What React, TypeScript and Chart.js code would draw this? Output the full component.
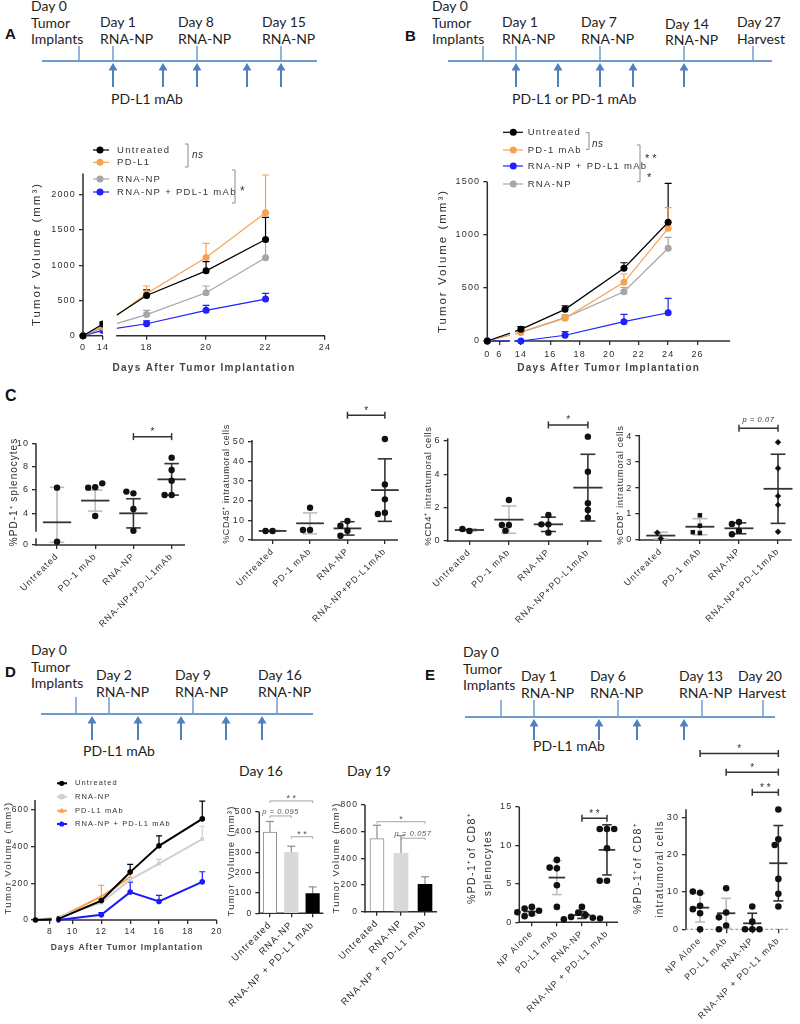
import React, { useEffect, useRef } from "react";
import { Chart, registerables } from "chart.js";

Chart.register(...registerables);

const SANS = '"Liberation Sans", Arial, Helvetica, sans-serif';
const TLFONT = 'Lato, "Open Sans", "Liberation Sans", sans-serif';
const INK = "#2e2e2e";

/* ================= Panel A : tumour growth ================= */
const aDays = [0, 14, 18, 20, 22];
const aXTickDays = [0, 14, 18, 20, 22, 24];
const aYTicks = [0, 500, 1000, 1500, 2000];
const aNames = ["Untreated", "PD-L1", "RNA-NP", "RNA-NP + PDL-1 mAb"];
const aUntreated = [0, 165, 570, 920, 1365];
const aUntreatedSem = [0, 30, 80, 130, 315];
const aPDL1 = [0, 140, 600, 1110, 1745];
const aPDL1Sem = [0, 30, 105, 200, 535];
const aRNANP = [0, 115, 300, 610, 1105];
const aRNANPSem = [0, 25, 60, 95, 235];
const aCombo = [0, 75, 170, 360, 520];
const aComboSem = [0, 20, 40, 70, 80];

/* ================= Panel B ================= */
const bDays = [0, 14, 17, 21, 24];
const bXTickDays = [0, 6, 14, 16, 18, 20, 22, 24, 26];
const bYTicks = [0, 500, 1000, 1500];
const bNames = ["Untreated", "PD-1 mAb", "RNA-NP + PD-L1 mAb", "RNA-NP"];
const bUntreated = [0, 110, 298, 685, 1118];
const bUntreatedSem = [0, 25, 34, 52, 367];
const bPD1 = [0, 80, 214, 553, 1061];
const bPD1Sem = [0, 15, 31, 78, 194];
const bCombo = [0, 0, 54, 182, 266];
const bComboSem = [0, 0, 34, 69, 136];
const bRNANP = [0, 85, 220, 464, 873];
const bRNANPSem = [0, 15, 25, 40, 103];

/* ================= Panel C : dot plots ================= */
const cGroups = ["Untreated", "PD-1 mAb", "RNA-NP", "RNA-NP+PD-L1mAb"];
const c1Points = [[6.2, 0.28], [6.23, 6.2, 6.57, 3.77], [5.71, 5.86, 4.37, 2.51], [8.77, 7.71, 6.8, 5.57, 5.57]];
const c1Mean = [3.23, 5.09, 4.0, 6.91];
const c1Sem = [3.0, 0.9, 1.25, 1.35];
const c1YTicks = [0, 4, 6, 8, 10];
const c2Points = [[4.6, 4.6], [16.4, 5.1, 5.1], [9.7, 7.3, 4.7, 2.2], [51.4, 28.3, 20.7, 13.9, 13.2]];
const c2Mean = [4.6, 8.5, 5.9, 25.4];
const c2Sem = [0.3, 5.3, 3.4, 15.9];
const c2YTicks = [0, 10, 20, 30, 40, 50];
const c3Points = [[0.6, 0.72], [2.46, 0.96, 0.96, 0.62], [1.56, 1.0, 1.0, 0.5], [6.26, 4.16, 2.26, 1.86, 1.4]];
const c3Mean = [0.66, 1.28, 1.0, 3.2];
const c3Sem = [0.07, 0.82, 0.43, 2.0];
const c3YTicks = [0, 2, 4, 6];
const c4Points = [[0.06, 0.28], [0.95, 0.55, 0.27, 0.3], [0.69, 0.62, 0.35, 0.22], [3.76, 2.76, 1.69, 1.35, 0.32]];
const c4Mean = [0.17, 0.51, 0.45, 1.97];
const c4Sem = [0.13, 0.31, 0.21, 1.33];
const c4YTicks = [0, 1, 2, 3, 4];

/* ================= Panel D ================= */
const dDays = [7, 9, 12, 14, 16, 19];
const dXTickDays = [8, 10, 12, 14, 16, 18, 20];
const dYTicks = [0, 200, 400, 600];
const dNames = ["Untreated", "RNA-NP", "PD-L1 mAb", "RNA-NP + PD-L1 mAb"];
const dUntreated = [0, 5, 106, 261, 404, 551];
const dUntreatedSem = [0, 0, 0, 42, 55, 97];
const dRNANP = [0, 15, 95, 220, 307, 441];
const dRNANPSem = [0, 0, 15, 0, 23, 70];
const dPDL1 = [null, 10, 128, 235, null, null];
const dPDL1Sem = [0, 0, 61, 30, 0, 0];
const dCombo = [null, 0, 28, 152, 101, 208];
const dComboSem = [0, 0, 12, 54, 33, 55];

const barGroups = ["Untreated", "RNA-NP", "RNA-NP + PD-L1 mAb"];
const day16Mean = [400, 300, 97];
const day16Sem = [52, 30, 33];
const day16YTicks = [0, 100, 200, 300, 400, 500];
const day19Mean = [548, 438, 205];
const day19Sem = [100, 132, 57];
const day19YTicks = [0, 200, 400, 600, 800];

/* ================= Panel E ================= */
const eGroups = ["NP Alone", "PD-L1 mAb", "RNA-NP", "RNA-NP + PD-L1 mAb"];
const e1Points = [[2.0, 1.8, 1.5, 1.1, 0.8, 1.3], [8.1, 7.0, 7.1, 4.8, 2.0], [2.0, 1.25, 0.95, 0.7, 0.6, 0.4, 0.5], [12.1, 12.1, 12.1, 9.6, 5.4, 5.4]];
const e1Mean = [1.4, 5.8, 0.95, 9.4];
const e1Sem = [0.45, 2.2, 0.45, 3.25];
const e1YTicks = [0, 5, 10, 15];
const e2Points = [[9.8, 10.1, 6.3, 5.4, 4.3, 0], [11, 4.5, 3.2, 1.0, 0], [6.1, 2.05, 0, 0, 0], [32.1, 24.1, 22.6, 13.5, 9.5, 6.1]];
const e2Mean = [5.8, 4.3, 1.6, 17.7];
const e2Sem = [3.8, 4.0, 2.7, 10.1];
const e2YTicks = [0, 10, 20, 30];

/* ================= axis breaks (display transforms) ================= */
type Brk = { d0: number; d1: number; p0: number; p1: number; s2: number };
const aBreak: Brk = { d0: 0, d1: 14, p0: 15.86, p1: 16.53, s2: 17 };
const bBreak: Brk = { d0: 0, d1: 11.35, p0: 11.72, p1: 13.26, s2: 13.6 };
const dBreak: Brk = { d0: 7, d1: 8.12, p0: 7.434, p1: 8.554, s2: 8.9 };
function breakMap(b: Brk) {
  return (d: number) =>
    d <= b.d1 ? b.p0 + ((d - b.d0) * (b.p1 - b.p0)) / (b.d1 - b.d0)
      : d >= b.s2 ? d : b.p1 + ((d - b.d1) * (b.s2 - b.p1)) / (b.s2 - b.d1);
}
const aMap = breakMap(aBreak);
const bMap = breakMap(bBreak);
const dMap = breakMap(dBreak);
const c1Brk = { v1: 0.571, p0: 1.286, p1: 1.857, s2: 2.49 };
const c1Map = (v: number) =>
  v <= c1Brk.v1 ? c1Brk.p0 + v : v >= c1Brk.s2 ? v : c1Brk.p1 + ((v - c1Brk.v1) * (c1Brk.s2 - c1Brk.p1)) / (c1Brk.s2 - c1Brk.v1);

/* ================= drawing helpers ================= */
type Box = { left: number; top: number; right: number; bottom: number; area: number[] };
type Txt = { t: string; x: number; y: number; size: number; weight?: string; italic?: boolean; ls?: number; rot?: number; color?: string; align?: CanvasTextAlign; base?: CanvasTextBaseline };

function seg(ctx: any, x0: number, y0: number, x1: number, y1: number) {
  ctx.beginPath();
  ctx.moveTo(x0, y0);
  ctx.lineTo(x1, y1);
  ctx.stroke();
}
function marker(ctx: any, style: string, x: number, y: number, r: number, color: string) {
  ctx.fillStyle = color;
  ctx.beginPath();
  if (style === "rect") ctx.rect(x - r, y - r, 2 * r, 2 * r);
  else if (style === "rectRot") {
    ctx.moveTo(x, y - r * 1.3); ctx.lineTo(x + r * 1.3, y); ctx.lineTo(x, y + r * 1.3); ctx.lineTo(x - r * 1.3, y); ctx.closePath();
  } else if (style === "triangle") {
    ctx.moveTo(x, y - r * 1.2); ctx.lineTo(x + r * 1.1, y + r * 0.8); ctx.lineTo(x - r * 1.1, y + r * 0.8); ctx.closePath();
  } else ctx.arc(x, y, r, 0, Math.PI * 2);
  ctx.fill();
}
function drawText(ctx: any, t: Txt, ox: number, oy: number) {
  ctx.save();
  ctx.font = `${t.italic ? "italic " : ""}${t.weight || "normal"} ${t.size}px ${SANS}`;
  ctx.letterSpacing = (t.ls ?? 0) + "px";
  ctx.fillStyle = t.color || INK;
  ctx.textAlign = t.align || "center";
  ctx.textBaseline = t.base || "middle";
  ctx.translate(t.x - ox, t.y - oy);
  if (t.rot) ctx.rotate((t.rot * Math.PI) / 180);
  ctx.fillText(t.t, 0, 0);
  ctx.restore();
}

function figPlugin(f: any) {
  const ox = f.box.left, oy = f.box.top;
  return {
    id: "fig",
    beforeDraw(chart: any) {
      chart.ctx.letterSpacing = (f.ls ?? 0.8) + "px";
    },
    beforeDatasetsDraw(chart: any) {
      const ctx = chart.ctx, xs = chart.scales.x, ys = chart.scales.y, ca = chart.chartArea;
      ctx.save();
      ctx.strokeStyle = INK;
      ctx.lineWidth = 1.5;
      const ySegs = f.ySegs || [[ys.min, ys.max]];
      ySegs.forEach((s: number[]) => seg(ctx, ca.left, ys.getPixelForValue(s[0]) + 0.75, ca.left, ys.getPixelForValue(s[1])));
      if (f.xDash) { ctx.setLineDash(f.xDash); ctx.strokeStyle = f.xAxisColor || "#888"; ctx.lineWidth = 1; }
      const xSegs = f.xSegs ? f.xSegs.map((s: number[]) => [xs.getPixelForValue(s[0]), xs.getPixelForValue(s[1])]) : [[ca.left, ca.right]];
      xSegs.forEach((s: number[]) => seg(ctx, s[0] - 0.75, ca.bottom, s[1], ca.bottom));
      ctx.restore();

      ctx.save();
      if (f.gap) {
        const g0 = xs.getPixelForValue(f.gap[0]), g1 = xs.getPixelForValue(f.gap[1]);
        ctx.beginPath();
        ctx.rect(0, 0, g0, chart.height);
        ctx.rect(g1, 0, chart.width - g1, chart.height);
        ctx.clip();
      }
      if (f.stats) {
        const S = f.stats;
        S.mid.forEach((m: number, i: number) => {
          const g = i + 1, px = xs.getPixelForValue(g);
          const hw = xs.getPixelForValue(g + S.meanHalf) - px;
          const cw = xs.getPixelForValue(g + S.capHalf) - px;
          const pm = ys.getPixelForValue(m);
          const plo = ys.getPixelForValue(Math.max(S.lo[i], ys.min));
          const phi = ys.getPixelForValue(S.hi[i]);
          ctx.lineWidth = 1.6;
          ctx.strokeStyle = S.whisker[i];
          seg(ctx, px, plo, px, phi);
          seg(ctx, px - cw, plo, px + cw, plo);
          seg(ctx, px - cw, phi, px + cw, phi);
          ctx.strokeStyle = S.meanColor;
          ctx.lineWidth = 1.8;
          seg(ctx, px - hw, pm, px + hw, pm);
        });
      }
      chart.data.datasets.forEach((ds: any, di: number) => {
        if (!ds.errors) return;
        const meta = chart.getDatasetMeta(di);
        ctx.save();
        ctx.strokeStyle = ds.errorColor || ds.borderColor;
        ctx.lineWidth = ds.errorWidth || 1.2;
        meta.data.forEach((el: any, i: number) => {
          const raw = ds.data[i];
          if (raw == null) return;
          const v = typeof raw === "number" ? raw : raw.y;
          const e = ds.errors[i];
          if (v == null || !e) return;
          const p0 = ys.getPixelForValue(v), p1 = ys.getPixelForValue(v + e), cap = ds.errorCap ?? 3;
          seg(ctx, el.x, p0, el.x, p1);
          seg(ctx, el.x - cap, p1, el.x + cap, p1);
        });
        ctx.restore();
      });
    },
    afterDatasetsDraw(chart: any) {
      chart.ctx.restore();
    },
    afterDraw(chart: any) {
      const ctx = chart.ctx, xs = chart.scales.x, ys = chart.scales.y;
      ctx.save();
      if (f.sigs) {
        const st = f.sigStyle;
        f.sigs.forEach((s: any) => {
          const xa = xs.getPixelForValue(s.a), xb = xs.getPixelForValue(s.b), y = ys.getPixelForValue(s.v);
          ctx.strokeStyle = st.color;
          ctx.lineWidth = st.lw;
          seg(ctx, xa, y, xb, y);
          seg(ctx, xa, y - st.up, xa, y + st.down);
          seg(ctx, xb, y - st.up, xb, y + st.down);
          drawText(ctx, {
            t: s.text, x: (xa + xb) / 2 + ox, y: y - (s.italic ? st.pgap : st.gap) + oy,
            size: s.italic ? st.psize : st.size, italic: s.italic, color: st.textColor, base: "alphabetic", ls: s.italic ? 0.6 : 0,
          }, ox, oy);
        });
      }
      if (f.legend) {
        const L = f.legend;
        chart.data.datasets.forEach((ds: any, i: number) => {
          const y = L.rows[i] - oy;
          ctx.strokeStyle = ds.borderColor;
          ctx.lineWidth = L.lw;
          seg(ctx, L.lx0 - ox, y, L.lx1 - ox, y);
          marker(ctx, ds.pointStyle, L.mx - ox, y, L.r, ds.borderColor);
          drawText(ctx, { t: ds.label, x: L.tx, y: L.rows[i], size: L.size, ls: L.ls, align: "left", color: "#333" }, ox, oy);
        });
      }
      if (f.brackets) {
        ctx.strokeStyle = "#8a8a8a";
        ctx.lineWidth = 1;
        f.brackets.forEach((b: any) => {
          seg(ctx, b.x - ox, b.y0 - oy, b.x - ox, b.y1 - oy);
          seg(ctx, b.x - ox - 3, b.y0 - oy, b.x - ox, b.y0 - oy);
          seg(ctx, b.x - ox - 3, b.y1 - oy, b.x - ox, b.y1 - oy);
        });
      }
      (f.texts || []).forEach((t: Txt) => drawText(ctx, t, ox, oy));
      ctx.restore();
    },
  };
}

function linScale(axis: string, min: number, max: number, vals: number[], labels: string[], size: number, pad: number, extent: number, rot = 0) {
  return {
    type: "linear",
    position: axis === "x" ? "bottom" : "left",
    min, max, bounds: "data",
    afterBuildTicks: (s: any) => { s.ticks = vals.map((v) => ({ value: v })); },
    afterFit: (s: any) => { if (axis === "x") s.height = extent; else s.width = extent; },
    ticks: { callback: (_v: any, i: number) => labels[i], font: { family: SANS, size }, color: INK, padding: pad, autoSkip: false, maxRotation: rot, minRotation: rot },
    grid: { display: true, drawOnChartArea: false, drawTicks: true, tickLength: 4, color: INK, lineWidth: 1.3 },
    border: { display: false },
  };
}

function baseOptions(box: Box, scales: any) {
  const [L, T, R, B] = box.area;
  return {
    responsive: false, animation: false, devicePixelRatio: 1, events: [],
    layout: { padding: { left: 0, top: T - box.top, right: box.right - R, bottom: 0 } },
    plugins: { legend: { display: false }, tooltip: { enabled: false }, title: { display: false }, colors: { enabled: false } },
    scales,
  };
}

type Def = { box: Box; config: () => any };

/* ---------- line charts ---------- */
function lineDef(p: any): Def {
  return {
    box: p.box,
    config: () => {
      const [L, , , B] = p.box.area;
      const datasets = p.series.map((s: any) => {
        const data: any[] = [];
        const errors: number[] = [];
        s.vals.forEach((v: number | null, i: number) => {
          if (v === null) return;
          data.push({ x: p.map(s.days[i]), y: v });
          errors.push(s.sem[i]);
        });
        return {
          label: s.label, data, errors, borderColor: s.color, backgroundColor: s.color,
          pointBackgroundColor: s.color, pointBorderColor: s.color, pointBorderWidth: 0,
          pointRadius: s.r, pointStyle: s.style, borderWidth: p.lw, tension: 0, clip: false,
          errorCap: p.errCap, errorWidth: 1.2,
        };
      });
      return {
        type: "line",
        data: { datasets },
        options: baseOptions(p.box, {
          x: linScale("x", p.xMin, p.xMax, p.xTickDays.map(p.map), p.xTickDays.map(String), p.tickSize ?? 8.5, p.xPad, p.box.bottom - B),
          y: linScale("y", 0, p.yMax, p.yTicks, p.yTicks.map(String), p.tickSize ?? 8.5, p.yPad, L - p.box.left),
        }),
        plugins: [figPlugin({ ...p.fig, box: p.box })],
      };
    },
  };
}

/* ---------- dot plots ---------- */
function swarm(vals: number[], group: number, pxX: number, pxY: number, r: number) {
  const placed: { dx: number; py: number }[] = [];
  return vals.map((v) => {
    const py = v * pxY;
    let dx = 0;
    for (let k = 0; k < 16; k++) {
      const cand = k === 0 ? 0 : (k % 2 ? -1 : 1) * Math.ceil(k / 2) * r * 1.1;
      if (placed.every((q) => Math.hypot(q.dx - cand, q.py - py) >= 2 * r)) { dx = cand; break; }
    }
    placed.push({ dx, py });
    return { x: group + dx / pxX, y: v };
  });
}

const cWhisk = ["#bdbdbd", "#bdbdbd", "#333333", "#333333"];
const cSigStyle = { color: "#333", lw: 1.5, up: 3.5, down: 3.5, size: 10, psize: 7.5, textColor: "#333", gap: 1.5, pgap: 6 };

function dotDef(p: any): Def {
  return {
    box: p.box,
    config: () => {
      const [L, T, R, B] = p.box.area;
      const map = p.yMap || ((v: number) => v);
      const pxX = (R - L) / (p.xMax - p.xMin), pxY = (B - T) / (p.yMax - p.yMin);
      const shapes = p.shapes || [];
      const datasets = p.points.map((vals: number[], gi: number) => ({
        data: swarm(vals.map(map), gi + 1, pxX, pxY, p.r),
        pointStyle: shapes[gi] || "circle", pointRadius: p.r, backgroundColor: "#111", borderColor: "#111",
        pointBorderWidth: 0, clip: false,
      }));
      const stats = {
        mid: p.mean.map((m: number) => map(m)),
        lo: p.mean.map((m: number, i: number) => map(m - p.sem[i])),
        hi: p.mean.map((m: number, i: number) => map(m + p.sem[i])),
        whisker: cWhisk, meanColor: "#333333", meanHalf: p.meanHalf, capHalf: 0.19,
      };
      return {
        type: "scatter",
        data: { datasets },
        options: baseOptions(p.box, {
          x: linScale("x", p.xMin, p.xMax, [1, 2, 3, 4], p.labels, 9, 2, p.box.bottom - B, 45),
          y: linScale("y", p.yMin, p.yMax, p.yTicks.map(map), p.yTicks.map(String), 9, 3, L - p.box.left),
        }),
        plugins: [figPlugin({ box: p.box, ls: 1.1, stats, ySegs: p.ySegs, xDash: p.xDash, sigs: p.sigs, sigStyle: cSigStyle, texts: p.titles })],
      };
    },
  };
}

/* ---------- bar charts ---------- */
const barSigStyle = { color: "#9a9a9a", lw: 0.9, up: 0, down: 2, size: 9, psize: 7.5, textColor: "#555", gap: 0, pgap: 2 };
function barDef(p: any): Def {
  return {
    box: p.box,
    config: () => {
      const [L, , , B] = p.box.area;
      return {
        type: "bar",
        data: {
          labels: barGroups,
          datasets: [{
            data: p.means, errors: p.sems,
            backgroundColor: ["#ffffff", "#d9d9d9", "#000000"],
            borderColor: ["#8c8c8c", "#d9d9d9", "#000000"],
            borderWidth: [1, 0, 0], barThickness: p.thick,
            errorColor: "#8c8c8c", errorCap: 4, errorWidth: 1.2,
          }],
        },
        options: baseOptions(p.box, {
          x: {
            type: "category", position: "bottom", offset: true,
            afterFit: (s: any) => { s.height = p.box.bottom - B; },
            ticks: { font: { family: SANS, size: 9.5 }, color: INK, padding: 2, autoSkip: false, maxRotation: 45, minRotation: 45 },
            grid: { display: true, drawOnChartArea: false, drawTicks: true, tickLength: 4, color: INK, lineWidth: 1.3, offset: false },
            border: { display: false },
          },
          y: linScale("y", 0, p.yMax, p.yTicks, p.yTicks.map(String), 8.5, 3, L - p.box.left),
        }),
        plugins: [figPlugin({ box: p.box, ls: 1.1, sigs: p.sigs, sigStyle: barSigStyle, texts: p.texts })],
      };
    },
  };
}

/* ================= chart definitions ================= */
const A_COLORS = { black: "#000000", orange: "#F7A24F", gray: "#A6A6A6", blue: "#1F1FFF" };
const yTitle = "Tumor Volume (mm³)";
const xTitle = "Days After Tumor Implantation";

const defs: Def[] = [
  lineDef({
    box: { left: 0, top: 130, right: 340, bottom: 374, area: [83, 173.6, 325, 335.7] },
    map: aMap, xMin: aBreak.p0, xMax: 24, xTickDays: aXTickDays, yMax: 2300, yTicks: aYTicks,
    xPad: 2, yPad: 3, lw: 1.2, errCap: 3.5, tickSize: 9,
    series: [
      { label: aNames[0], color: A_COLORS.black, days: aDays, vals: aUntreated, sem: aUntreatedSem, style: "circle", r: 3.5 },
      { label: aNames[1], color: A_COLORS.orange, days: aDays, vals: aPDL1, sem: aPDL1Sem, style: "circle", r: 3.5 },
      { label: aNames[2], color: A_COLORS.gray, days: aDays, vals: aRNANP, sem: aRNANPSem, style: "circle", r: 3.5 },
      { label: aNames[3], color: A_COLORS.blue, days: aDays, vals: aCombo, sem: aComboSem, style: "circle", r: 3.5 },
    ],
    fig: {
      ls: 1.2,
      gap: [aBreak.p1, aBreak.s2],
      xSegs: [[aBreak.p0, aBreak.p1], [aBreak.s2, 24]],
      legend: { rows: [150, 162.3, 179, 192], lx0: 93, lx1: 109, mx: 100, tx: 117, size: 9.5, ls: 1.3, lw: 1.2, r: 3.5 },
      brackets: [{ x: 188, y0: 144, y1: 167 }, { x: 235, y0: 170, y1: 203 }],
      texts: [
        { t: yTitle, x: 37, y: 254, size: 11.5, ls: 2, rot: -90 },
        { t: xTitle, x: 204, y: 368, size: 10, weight: "bold", ls: 1.3, color: "#444" },
        { t: "ns", x: 192, y: 155, size: 10, italic: true, align: "left", ls: 0.5 },
        { t: "*", x: 240, y: 192, size: 12, align: "left" },
      ],
    },
  }),
  lineDef({
    box: { left: 400, top: 120, right: 800, bottom: 374, area: [487.3, 181.7, 730, 341] },
    map: bMap, xMin: bBreak.p0, xMax: 28.2, xTickDays: bXTickDays, yMax: 1500, yTicks: bYTicks,
    xPad: 4, yPad: 3, lw: 1.2, errCap: 3.5, tickSize: 9,
    series: [
      { label: bNames[0], color: A_COLORS.black, days: bDays, vals: bUntreated, sem: bUntreatedSem, style: "circle", r: 3.5 },
      { label: bNames[1], color: A_COLORS.orange, days: bDays, vals: bPD1, sem: bPD1Sem, style: "circle", r: 3.5 },
      { label: bNames[2], color: A_COLORS.blue, days: bDays, vals: bCombo, sem: bComboSem, style: "circle", r: 3.5 },
      { label: bNames[3], color: A_COLORS.gray, days: bDays, vals: bRNANP, sem: bRNANPSem, style: "circle", r: 3.5 },
    ],
    fig: {
      ls: 1.2,
      gap: [bBreak.p1, bBreak.s2],
      xSegs: [[bBreak.p0, bBreak.p1], [bBreak.s2, 28.2]],
      legend: { rows: [132.3, 150, 166, 184], lx0: 503, lx1: 523, mx: 513.3, tx: 527.7, size: 9.5, ls: 1.3, lw: 1.2, r: 3.5 },
      brackets: [{ x: 589, y0: 132.7, y1: 149.3 }, { x: 640, y0: 145, y1: 181.7 }],
      texts: [
        { t: yTitle, x: 443, y: 261, size: 11.5, ls: 2, rot: -90 },
        { t: xTitle, x: 608.7, y: 368, size: 10, weight: "bold", ls: 1.3, color: "#444" },
        { t: "ns", x: 592, y: 144, size: 10, italic: true, align: "left", ls: 0.5 },
        { t: "* *", x: 645, y: 159, size: 11, align: "left" },
        { t: "*", x: 647, y: 178, size: 11, align: "left" },
      ],
    },
  }),
  dotDef({
    box: { left: 0, top: 415, right: 200, bottom: 650, area: [36, 443.3, 185, 545] },
    points: c1Points, mean: c1Mean, sem: c1Sem, yMap: c1Map, yMin: c1Brk.p0, yMax: 10, yTicks: c1YTicks,
    ySegs: [[c1Brk.p0, c1Brk.p1], [c1Brk.s2, 10]], labels: cGroups, r: 3.2, meanHalf: 0.37, xMin: 0.45, xMax: 4.35,
    sigs: [{ a: 3, b: 4, v: 10.57, text: "*" }],
    titles: [{ t: "%PD-1⁺ splenocytes", x: 14, y: 492, size: 10, ls: 1, rot: -90 }],
  }),
  dotDef({
    box: { left: 200, top: 400, right: 405, bottom: 650, area: [252, 440, 398, 540] },
    points: c2Points, mean: c2Mean, sem: c2Sem, yMin: 0, yMax: 50.9, yTicks: c2YTicks,
    labels: cGroups, r: 3.2, meanHalf: 0.37, xMin: 0.45, xMax: 4.35,
    sigs: [{ a: 3, b: 4, v: 63.5, text: "*" }],
    titles: [{ t: "%CD45⁺ intratumoral cells", x: 227, y: 484, size: 9, ls: 0.6, rot: -90 }],
  }),
  dotDef({
    box: { left: 405, top: 400, right: 608, bottom: 650, area: [447.7, 438.3, 601.7, 541] },
    points: c3Points, mean: c3Mean, sem: c3Sem, yMin: 0, yMax: 6.16, yTicks: c3YTicks,
    labels: cGroups, r: 3.2, meanHalf: 0.37, xMin: 0.45, xMax: 4.35,
    sigs: [{ a: 3, b: 4, v: 6.96, text: "*" }],
    titles: [{ t: "%CD4⁺ intratumoral cells", x: 428.3, y: 486, size: 9.5, ls: 0.6, rot: -90 }],
  }),
  dotDef({
    box: { left: 608, top: 400, right: 800, bottom: 650, area: [639.3, 435, 791.7, 540] },
    points: c4Points, mean: c4Mean, sem: c4Sem, yMin: 0, yMax: 4.04, yTicks: c4YTicks,
    labels: cGroups, r: 3.2, meanHalf: 0.37, xMin: 0.45, xMax: 4.35, shapes: ["rectRot", "rect", "circle", "rectRot"],
    sigs: [{ a: 3, b: 4, v: 4.3, text: "p = 0.07", italic: true }],
    titles: [{ t: "%CD8⁺ intratumoral cells", x: 620, y: 485, size: 9.5, ls: 0.6, rot: -90 }],
  }),
  lineDef({
    box: { left: 0, top: 775, right: 225, bottom: 953, area: [35, 800, 216.7, 920] },
    map: dMap, xMin: 7.4, xMax: 20, xTickDays: dXTickDays, yMax: 654, yTicks: dYTicks,
    xPad: 2.5, yPad: 2, lw: 2, errCap: 3,
    series: [
      { label: dNames[0], color: "#000000", days: dDays, vals: dUntreated, sem: dUntreatedSem, style: "circle", r: 2.8 },
      { label: dNames[1], color: "#D0D0D0", days: dDays, vals: dRNANP, sem: dRNANPSem, style: "rect", r: 2.6 },
      { label: dNames[2], color: A_COLORS.orange, days: dDays, vals: dPDL1, sem: dPDL1Sem, style: "triangle", r: 2.6 },
      { label: dNames[3], color: "#1A1AFF", days: dDays, vals: dCombo, sem: dComboSem, style: "circle", r: 2.8 },
    ],
    fig: {
      ls: 1,
      gap: [dBreak.p1, dBreak.s2],
      xSegs: [[7.4, dBreak.p1], [dBreak.s2, 20]],
      legend: { rows: [783.3, 796.7, 810.7, 824], lx0: 57, lx1: 67, mx: 61.7, tx: 75, size: 7.5, ls: 1.1, lw: 2, r: 2.6 },
      texts: [
        { t: yTitle, x: 8, y: 858, size: 9.5, ls: 1.3, rot: -90 },
        { t: xTitle, x: 127, y: 947.3, size: 8.5, weight: "bold", ls: 1, color: "#444" },
      ],
    },
  }),
  barDef({
    box: { left: 222, top: 760, right: 332, bottom: 1014, area: [259.3, 811.7, 323.3, 913.3] },
    means: day16Mean, sems: day16Sem, yMax: 500, yTicks: day16YTicks, thick: 13.5,
    sigs: [
      { a: 0, b: 2, v: 553, text: "* *" },
      { a: 0, b: 1, v: 479, text: "p = 0.095", italic: true },
      { a: 1, b: 2, v: 377, text: "* *" },
    ],
    texts: [{ t: yTitle, x: 231.7, y: 861, size: 9.5, ls: 1.2, rot: -90 }],
  }),
  barDef({
    box: { left: 330, top: 760, right: 448, bottom: 1014, area: [365, 805, 437, 911.7] },
    means: day19Mean, sems: day19Sem, yMax: 800, yTicks: day19YTicks, thick: 14,
    sigs: [
      { a: 0, b: 2, v: 675, text: "*" },
      { a: 1, b: 2, v: 551, text: "p = 0.057", italic: true },
    ],
    texts: [{ t: yTitle, x: 336.7, y: 858, size: 9.5, ls: 1.2, rot: -90 }],
  }),
  dotDef({
    box: { left: 455, top: 790, right: 622, bottom: 1022, area: [519.3, 806.7, 618.3, 922.3] },
    points: e1Points, mean: e1Mean, sem: e1Sem, yMin: 0, yMax: 15, yTicks: e1YTicks,
    labels: eGroups, r: 3.3, meanHalf: 0.33, xMin: 0.5, xMax: 4.44,
    sigs: [{ a: 3, b: 4, v: 13.5, text: "* *" }],
    titles: [
      { t: "%PD-1⁺of CD8⁺", x: 471.7, y: 858, size: 10.5, ls: 1.4, rot: -90 },
      { t: "splenocytes", x: 488.3, y: 863, size: 10, ls: 1.2, rot: -90 },
    ],
  }),
  dotDef({
    box: { left: 622, top: 740, right: 800, bottom: 1022, area: [686, 809.3, 788, 929.3] },
    points: e2Points, mean: e2Mean, sem: e2Sem, yMin: 0, yMax: 32.15, yTicks: e2YTicks,
    labels: eGroups, r: 3.3, meanHalf: 0.35, xMin: 0.46, xMax: 4.37, xDash: [3, 2],
    sigs: [
      { a: 1, b: 4, v: 47.1, text: "*" },
      { a: 2, b: 4, v: 42.1, text: "*" },
      { a: 3, b: 4, v: 36.7, text: "* *" },
    ],
    titles: [
      { t: "%PD-1⁺of CD8⁺", x: 638.3, y: 868, size: 10.5, ls: 1.4, rot: -90 },
      { t: "intratumoral cells", x: 660, y: 869, size: 10, ls: 1.2, rot: -90 },
    ],
  }),
];

/* ================= timelines (schematic) ================= */
const timelines = [
  {
    lineY: 61, x0: 42, x1: 317, ticks: [79, 113, 197, 281], tickTop: 46, arrows: [113, 163, 197, 247, 281], arrowEnd: 87,
    labels: [
      { x: 31, y: 11, lines: ["Day 0", "Tumor", "Implants"] },
      { x: 100, y: 27, lines: ["Day 1", "RNA-NP"] },
      { x: 178, y: 27, lines: ["Day 8", "RNA-NP"] },
      { x: 262, y: 27, lines: ["Day 15", "RNA-NP"] },
    ],
    mab: { x: 111, y: 104, text: "PD-L1 mAb" }, letter: { x: 5, y: 39, text: "A" },
  },
  {
    lineY: 61, x0: 448, x1: 772, ticks: [483, 516, 600, 684, 753], tickTop: 46, arrows: [516, 558, 600, 633, 684], arrowEnd: 87,
    labels: [
      { x: 432, y: 11, lines: ["Day 0", "Tumor", "Implants"] },
      { x: 502, y: 27, lines: ["Day 1", "RNA-NP"] },
      { x: 581, y: 27, lines: ["Day 7", "RNA-NP"] },
      { x: 665, y: 28.5, lines: ["Day 14", "RNA-NP"] },
      { x: 737, y: 27, lines: ["Day 27", "Harvest"] },
    ],
    mab: { x: 512, y: 104, text: "PD-L1 or PD-1 mAb" }, letter: { x: 405, y: 41, text: "B" },
  },
  {
    lineY: 714, x0: 41, x1: 313, ticks: [76, 109, 193, 277], tickTop: 697, arrows: [92, 138, 181, 226, 262], arrowEnd: 740,
    labels: [
      { x: 31, y: 655, lines: ["Day 0", "Tumor", "Implants"] },
      { x: 96, y: 680, lines: ["Day 2", "RNA-NP"] },
      { x: 175, y: 680, lines: ["Day 9", "RNA-NP"] },
      { x: 258, y: 680, lines: ["Day 16", "RNA-NP"] },
    ],
    mab: { x: 83, y: 756, text: "PD-L1 mAb" }, letter: { x: 5, y: 677, text: "D" },
  },
  {
    lineY: 717, x0: 465, x1: 775, ticks: [501, 534, 618, 702, 763], tickTop: 700, arrows: [534, 599, 637, 684], arrowEnd: 740,
    labels: [
      { x: 463, y: 657, lines: ["Day 0", "Tumor", "Implants"] },
      { x: 521, y: 681, lines: ["Day 1", "RNA-NP"] },
      { x: 590, y: 681, lines: ["Day 6", "RNA-NP"] },
      { x: 679, y: 681, lines: ["Day 13", "RNA-NP"] },
      { x: 738, y: 681, lines: ["Day 20", "Harvest"] },
    ],
    mab: { x: 533, y: 751, text: "PD-L1 mAb" }, letter: { x: 425, y: 680, text: "E" },
  },
];

function Schematics() {
  const lc = "#6F9BD1", ac = "#4F81BD";
  return (
    <svg width={800} height={1024} style={{ position: "absolute", left: 0, top: 0 }}>
      {timelines.map((tl, k) => (
        <g key={k}>
          <line x1={tl.x0} y1={tl.lineY} x2={tl.x1} y2={tl.lineY} stroke={lc} strokeWidth={1.8} />
          {tl.ticks.map((x, i) => (
            <line key={"t" + i} x1={x} y1={tl.tickTop} x2={x} y2={tl.lineY} stroke={lc} strokeWidth={1.5} />
          ))}
          {tl.arrows.map((x, i) => (
            <g key={"a" + i}>
              <line x1={x} y1={tl.lineY + 8} x2={x} y2={tl.arrowEnd} stroke={ac} strokeWidth={2} />
              <polygon points={`${x},${tl.lineY + 2} ${x - 4.5},${tl.lineY + 9.5} ${x + 4.5},${tl.lineY + 9.5}`} fill={ac} />
            </g>
          ))}
          {tl.labels.map((lb, i) => (
            <text key={"l" + i} x={lb.x} y={lb.y} fontFamily={TLFONT} fontSize={14} fill="#1e1e1e">
              {lb.lines.map((ln, j) => (
                <tspan key={j} x={lb.x} y={lb.y + j * 16.5}>{ln}</tspan>
              ))}
            </text>
          ))}
          <text x={tl.mab.x} y={tl.mab.y} fontFamily={TLFONT} fontSize={14} fill="#1e1e1e">{tl.mab.text}</text>
          <text x={tl.letter.x} y={tl.letter.y} fontFamily={SANS} fontWeight="bold" fontSize={15} fill="#111">{tl.letter.text}</text>
        </g>
      ))}
      <text x={5} y={401} fontFamily={SANS} fontWeight="bold" fontSize={16} fill="#111">C</text>
      <text x={261} y={776} fontFamily={TLFONT} fontSize={14} fill="#1e1e1e" textAnchor="middle">Day 16</text>
      <text x={369} y={776} fontFamily={TLFONT} fontSize={14} fill="#1e1e1e" textAnchor="middle">Day 19</text>
    </svg>
  );
}

function ChartCanvas({ def }: { def: Def }) {
  const ref = useRef<HTMLCanvasElement | null>(null);
  useEffect(() => {
    if (!ref.current) return;
    const chart = new Chart(ref.current, def.config());
    return () => chart.destroy();
  }, [def]);
  const w = def.box.right - def.box.left, h = def.box.bottom - def.box.top;
  return (
    <canvas
      ref={ref}
      width={w}
      height={h}
      style={{ position: "absolute", left: def.box.left, top: def.box.top, width: w, height: h }}
    />
  );
}

export default function App() {
  return (
    <div style={{ position: "fixed", left: 0, top: 0, width: 800, height: 1024, background: "#fff", overflow: "hidden" }}>
      <Schematics />
      {defs.map((d, i) => (
        <ChartCanvas key={i} def={d} />
      ))}
    </div>
  );
}
